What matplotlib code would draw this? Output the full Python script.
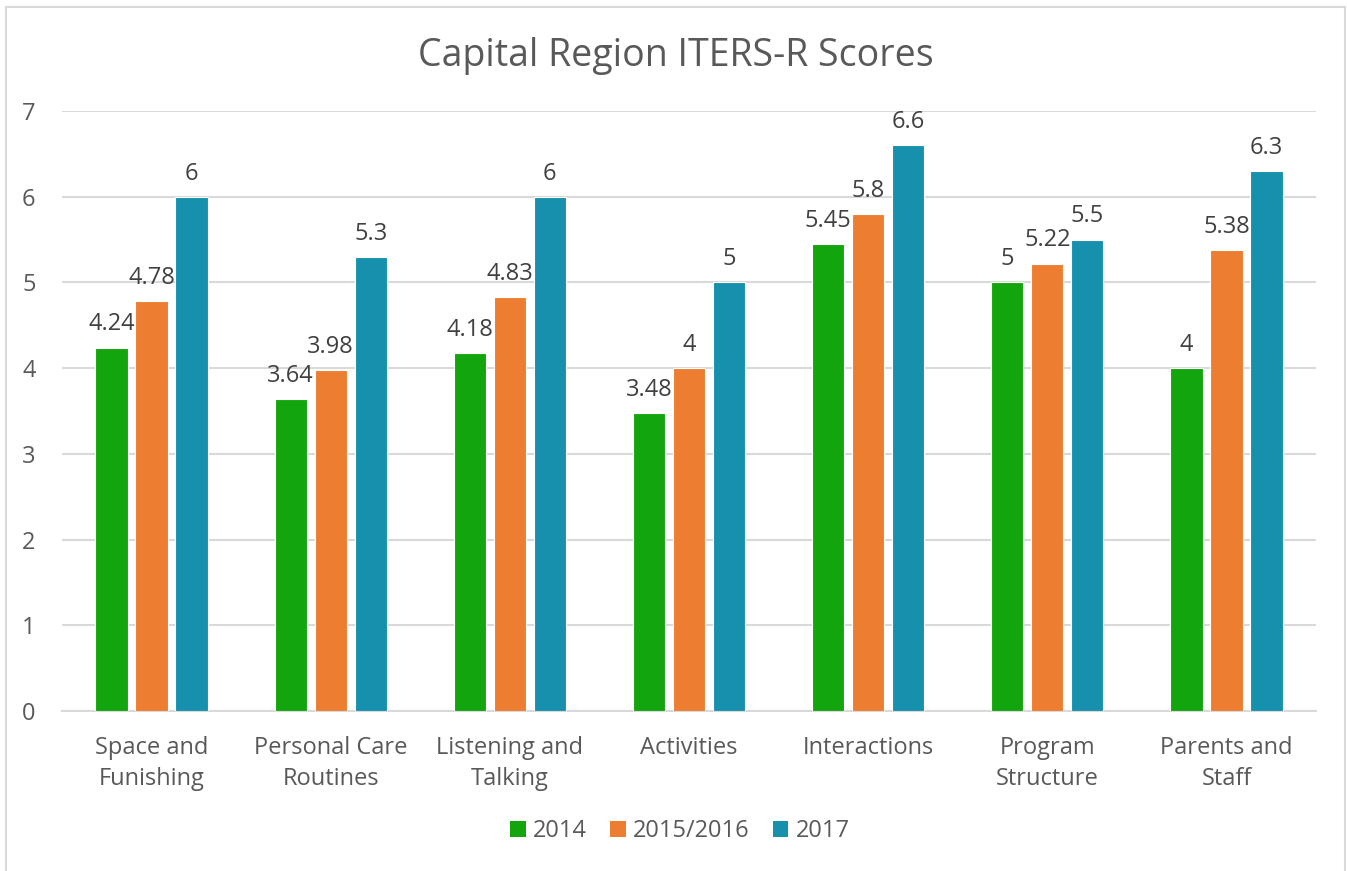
import matplotlib
matplotlib.use("Agg")
import matplotlib.pyplot as plt
from matplotlib.patches import Rectangle, Patch
import numpy as np

categories = ["Space and\nFunishing", "Personal Care\nRoutines", "Listening and\nTalking",
              "Activities", "Interactions", "Program\nStructure", "Parents and\nStaff"]
series_names = ["2014", "2015/2016", "2017"]
s2014 = [4.24, 3.64, 4.18, 3.48, 5.45, 5.0, 4.0]
s2015 = [4.78, 3.98, 4.83, 4.0, 5.8, 5.22, 5.38]
s2017 = [6.0, 5.3, 6.0, 5.0, 6.6, 5.5, 6.3]
labels2014 = ["4.24", "3.64", "4.18", "3.48", "5.45", "5", "4"]
labels2015 = ["4.78", "3.98", "4.83", "4", "5.8", "5.22", "5.38"]
labels2017 = ["6", "5.3", "6", "5", "6.6", "5.5", "6.3"]
colors = ["#13A50E", "#ED7D31", "#1690AC"]
yticks = [0, 1, 2, 3, 4, 5, 6, 7]

plt.rcParams['font.family'] = ['Open Sans', 'DejaVu Sans']
txt = "#595959"
fs = 17

fig = plt.figure(figsize=(13.47, 8.71), dpi=100)
ax = fig.add_axes([62/1347, 1-711/871, (1316-62)/1347, (711-111)/871])

# outer frame
fig.patches.append(Rectangle((6/1347, -0.05), (1345-6)/1347, 1.05 - 7/871,
                             transform=fig.transFigure, fill=False,
                             edgecolor="#D9D9D9", linewidth=1.5))

x = np.arange(len(categories))
w = 0.18
off = 0.223
for i, (vals, labs) in enumerate(zip([s2014, s2015, s2017], [labels2014, labels2015, labels2017])):
    bars = ax.bar(x + (i - 1) * off, vals, width=w, color=colors[i],
                  edgecolor="white", linewidth=0.8, zorder=3, label=series_names[i])
    for b, lab in zip(bars, labs):
        ax.annotate(lab, (b.get_x() + b.get_width()/2, b.get_height()),
                    xytext=(0, 8), textcoords="offset points",
                    ha="center", va="bottom", fontsize=fs, color="#404040")

ax.set_xlim(-0.5, len(categories) - 0.5)
ax.set_ylim(0, 7)
ax.set_yticks(yticks)
ax.set_yticklabels([str(t) for t in yticks])
ax.set_xticks(x)
ax.set_xticklabels(categories, fontsize=fs, color=txt, linespacing=1.4)
ax.tick_params(axis='y', length=0, pad=19, labelsize=fs, labelcolor=txt)
ax.tick_params(axis='x', length=0, pad=18)
ax.yaxis.grid(True, color="#D9D9D9", linewidth=1.5, zorder=0)
ax.set_axisbelow(True)
for s in ["top", "right", "left"]:
    ax.spines[s].set_visible(False)
ax.spines["bottom"].set_color("#D9D9D9")
ax.spines["bottom"].set_linewidth(1.5)

fig.text(676/1347, 1-56/871, "Capital Region ITERS-R Scores", ha="center", va="center",
         fontsize=27, color=txt)

handles = [Patch(facecolor=c, edgecolor='none') for c in colors]
fig.legend(handles, series_names, loc="center", bbox_to_anchor=(680/1347, 1-831/871),
           ncol=3, frameon=False, fontsize=fs, labelcolor=txt,
           handlelength=0.65, handleheight=0.65, handletextpad=0.3, columnspacing=1.0)

fig.savefig("out.png", dpi=100)
